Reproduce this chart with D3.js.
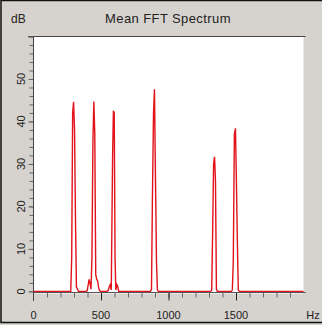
<!DOCTYPE html>
<html>
<head>
<meta charset="utf-8">
<script src="https://cdn.jsdelivr.net/npm/d3@7"></script>
<style>
  body { margin: 0; background: #d6d3ce; }
  svg { display: block; }
  text { font-family: "Liberation Sans", Arial, sans-serif; fill: #222; }
</style>
</head>
<body>
<svg id="chart" width="322" height="325"></svg>
<script>
// spectrum points (Hz, dB)
const freqHz = [0,
  276, 283, 290, 297, 304, 311, 318, 325, 332,
  390, 398, 405, 412, 419, 426, 433, 440, 447, 454, 461, 468, 475, 482, 489, 496,
  545, 555, 562, 569, 576, 580, 586, 592, 598, 604, 610, 617, 624, 631,
  866, 874, 881, 889, 896, 903, 911, 918, 925,
  1312, 1320, 1327, 1334, 1341, 1348, 1355, 1362,
  1465, 1473, 1480, 1488, 1496, 1503, 1510, 1517, 1525,
  2000];
const levelDb = [0,
  0, 8, 42, 44.6, 38, 17, 1, 0.6, 0,
  0, 0.2, 1.5, 2.8, 1.8, 0.5, 8, 35, 44.7, 37, 4, 2.8, 2.5, 1, 0.2, 0,
  0, 0.3, 1.2, 1.6, 0.3, 13, 32, 42.5, 42, 8, 0.3, 1.6, 1.2, 0,
  0, 0.5, 22, 42, 47.6, 28, 7, 0.3, 0,
  0, 0.3, 14, 30, 31.7, 26, 0.5, 0,
  0, 0.3, 7.3, 37, 38.4, 26, 12, 0.3, 0,
  0];

const xTickLabels = [0, 500, 1000, 1500];
const yTickLabels = [0, 10, 20, 30, 40, 50];
const title = "Mean FFT Spectrum";

const svg = d3.select("#chart");
const pLeft = 33.5, pRight = 303.5, pTop = 36.5, pBottom = 293.5;

const x = d3.scaleLinear().domain([0, 2000]).range([pLeft, pRight]);
const y = d3.scaleLinear().domain([-0.5, 60]).range([pBottom, pTop]);

// window frame
svg.append("rect")
    .attr("x", 1).attr("y", 0.5).attr("width", 330).attr("height", 322)
    .attr("fill", "#d6d3ce").attr("stroke", "#111").attr("stroke-width", 1.5);

// plot area
svg.append("rect")
    .attr("x", pLeft).attr("y", pTop)
    .attr("width", pRight - pLeft).attr("height", pBottom - pTop)
    .attr("fill", "#fff");
svg.append("line")
    .attr("x1", 28).attr("x2", pRight + 2).attr("y1", pTop).attr("y2", pTop)
    .attr("stroke", "#444");

// y axis
const yMinor = svg.append("g").attr("transform", `translate(${pLeft},0)`)
    .call(d3.axisLeft(y).tickValues(d3.range(0, 61, 2)).tickSize(4).tickFormat(""));
const yMajor = svg.append("g").attr("transform", `translate(${pLeft},0)`)
    .call(d3.axisLeft(y).tickValues(yTickLabels.concat([60])).tickSize(5).tickFormat(""));
[yMinor, yMajor].forEach(g => {
  g.select(".domain").remove();
  g.selectAll("line").attr("stroke", "#666");
});
svg.append("line")
    .attr("x1", pLeft).attr("x2", pLeft).attr("y1", pTop).attr("y2", 301)
    .attr("stroke", "#444");

svg.append("g").selectAll("text")
  .data(yTickLabels)
  .join("text")
    .attr("transform", d => `translate(21,${y(d)}) rotate(-90)`)
    .attr("text-anchor", "middle")
    .attr("dy", "0.35em")
    .attr("font-size", 11)
    .text(d => d);

// x axis
const xMinor = svg.append("g").attr("transform", `translate(0,${pBottom - 1})`)
    .call(d3.axisBottom(x).tickValues(d3.range(100, 2000, 100)).tickSize(5).tickFormat(""));
const xMajor = svg.append("g").attr("transform", `translate(0,${pBottom - 1})`)
    .call(d3.axisBottom(x).tickValues(xTickLabels.slice(1)).tickSize(8).tickFormat(""));
[xMinor, xMajor].forEach(g => {
  g.select(".domain").remove();
  g.selectAll("line").attr("stroke", "#666");
});
xMajor.selectAll("line").attr("stroke", "#222");
svg.append("line")
    .attr("x1", pLeft).attr("x2", pRight + 2).attr("y1", pBottom - 1).attr("y2", pBottom - 1)
    .attr("stroke", "#555");

svg.append("g").selectAll("text")
  .data(xTickLabels)
  .join("text")
    .attr("x", d => x(d))
    .attr("y", 319)
    .attr("text-anchor", "middle")
    .attr("font-size", 11)
    .text(d => d);

svg.append("text").attr("x", 313).attr("y", 319)
    .attr("text-anchor", "middle").attr("font-size", 11).text("Hz");

// titles
svg.append("text").attr("x", 168).attr("y", 22.5)
    .attr("text-anchor", "middle").attr("font-size", 13)
    .attr("letter-spacing", 0.4).text(title);
svg.append("text").attr("x", 11).attr("y", 22.5)
    .attr("font-size", 12).text("dB");

// spectrum trace
const pts = freqHz.map((f, i) => [f, levelDb[i]]);
svg.append("path")
    .datum(pts)
    .attr("fill", "none")
    .attr("stroke", "#e3121b")
    .attr("stroke-width", 1.4)
    .attr("d", d3.line().x(d => x(d[0])).y(d => y(d[1])));
</script>
</body>
</html>
